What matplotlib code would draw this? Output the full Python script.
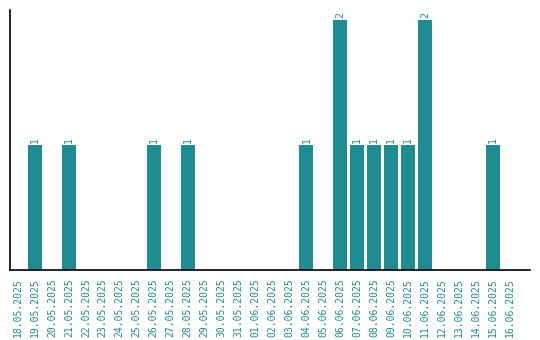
# Daily counts bar chart
import matplotlib
matplotlib.use("Agg")
import matplotlib.pyplot as plt

dates = ['18.05.2025', '19.05.2025', '20.05.2025', '21.05.2025', '22.05.2025',
         '23.05.2025', '24.05.2025', '25.05.2025', '26.05.2025', '27.05.2025',
         '28.05.2025', '29.05.2025', '30.05.2025', '31.05.2025', '01.06.2025',
         '02.06.2025', '03.06.2025', '04.06.2025', '05.06.2025', '06.06.2025',
         '07.06.2025', '08.06.2025', '09.06.2025', '10.06.2025', '11.06.2025',
         '12.06.2025', '13.06.2025', '14.06.2025', '15.06.2025', '16.06.2025']
counts = [0, 1, 0, 1, 0, 0, 0, 0, 1, 0,
          1, 0, 0, 0, 0, 0, 0, 1, 0, 2,
          1, 1, 1, 1, 2, 0, 0, 0, 1, 0]

color = '#1f8b93'

fig = plt.figure(figsize=(5.4, 3.4), dpi=100)
ax = fig.add_axes([0.0185, 0.206, 0.963, 0.764])

x = list(range(len(dates)))
bars = ax.bar(x, counts, width=0.82, color=color)
for xi, c in zip(x, counts):
    if c > 0:
        ax.text(xi, c + 0.02, str(c), rotation=90, ha='center', va='bottom',
                color=color, fontsize=7, family='DejaVu Sans Mono')

ax.set_xlim(-0.47, 30.18)
ax.set_ylim(0, 2.08)
ax.set_xticks(x)
ax.set_xticklabels(dates, rotation=90, fontsize=7, color=color, family='DejaVu Sans Mono')
ax.tick_params(axis='x', length=0, pad=6)
ax.set_yticks([])
ax.spines['top'].set_visible(False)
ax.spines['right'].set_visible(False)
ax.spines['left'].set_linewidth(1.2)
ax.spines['bottom'].set_linewidth(1.2)

fig.savefig('out.png', dpi=100)
